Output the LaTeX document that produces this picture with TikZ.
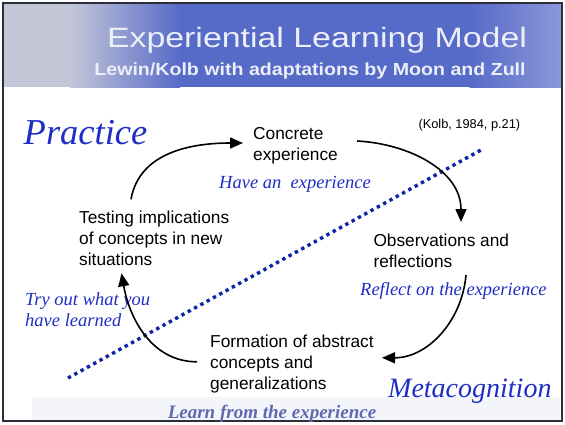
\documentclass[tikz,border=0pt]{standalone}
\usepackage{fontspec}
\setmainfont{Liberation Serif}
\setsansfont{Liberation Sans}
\usetikzlibrary{arrows.meta,calc}

\definecolor{hdpale}{RGB}{196,199,216}
\definecolor{hdblue}{RGB}{86,106,200}
\definecolor{hdlight}{RGB}{140,152,216}
\definecolor{titlewhite}{RGB}{236,238,248}
\definecolor{cueblue}{RGB}{30,45,195}
\definecolor{dotblue}{RGB}{15,35,170}
\definecolor{footgrey}{RGB}{244,245,250}
\definecolor{learnblue}{RGB}{95,105,175}
\definecolor{framegrey}{RGB}{45,45,60}

\newcommand{\stagefont}{\sffamily\fontsize{17.3}{21.2}\selectfont}
\newcommand{\cuefont}{\rmfamily\itshape\fontsize{18.5}{21}\selectfont}
\newcommand{\realmfont}[1]{\rmfamily\itshape\fontsize{#1}{#1}\selectfont}

\begin{document}
\begin{tikzpicture}[x=1pt,y=1pt,
  stage/.style={anchor=base west, align=left, inner sep=0pt, font=\stagefont},
  cue/.style={anchor=base west, align=left, inner sep=0pt, text=cueblue, font=\cuefont},
  cycarrow/.style={line width=1.6pt, -{Triangle[length=13pt,width=11pt]}}]
		\useasboundingbox (0,0) rectangle (565,-424);
		
		% header band and frame
		\fill[hdpale] (3,-3) rectangle (70.5,-87);
		\shade[left color=hdpale, right color=hdblue] (70,-3) rectangle (180,-87);
		\fill[hdblue] (179.5,-3) rectangle (470,-87);
		\shade[left color=hdblue, right color=hdlight] (469.5,-3) rectangle (562,-87);
		\fill[footgrey] (32,-397) rectangle (560,-420);
		\draw[framegrey, line width=1.4pt] (3,-3) rectangle (562,-421);
		
		\node[anchor=base, inner sep=0pt, text=titlewhite, xscale=1.21,
		  font=\sffamily\fontsize{28}{32}\selectfont] (title) at (317,-47) {Experiential Learning Model};
		\node[anchor=base, inner sep=0pt, text=titlewhite, xscale=1.12,
		  font=\sffamily\bfseries\fontsize{17.5}{20}\selectfont] (subtitle) at (310,-75) {Lewin/Kolb with adaptations by Moon and Zull};
		
		% dividing line
		\coordinate (divlo) at (68,-378);
		\coordinate (divhi) at (481,-150);
		\draw[dotblue, line width=3.4pt, dash pattern=on 3.4pt off 3.8pt] (divlo) -- (divhi);
		
		% the four stages (base = baseline of the last line)
		\node[stage] (concrete) at (253,-160.5) {Concrete\\experience};
		\node[stage] (observations) at (373.3,-267.9) {Observations and\\reflections};
		\node[stage] (formation) at (210,-389.7) {Formation of abstract\\concepts and\\generalizations};
		\node[stage] (testing) at (79,-265.7) {Testing implications\\of concepts in new\\situations};
		\node[anchor=base west, inner sep=0pt, font=\sffamily\fontsize{12.8}{15}\selectfont] (kolb) at (418.3,-128) {(Kolb, 1984, p.21)};
		
		% what to do at each stage
		\node[cue] (have) at (219,-188.5) {Have an\ \ experience};
		\node[cue] (reflect) at (360,-295) {Reflect on the experience};
		\node[cue] (tryout) at (25,-326.7) {Try out what you\\have learned};
		\node[anchor=base, inner sep=0pt, text=learnblue, font=\rmfamily\bfseries\itshape\fontsize{19}{21}\selectfont] (learn) at (272,-418) {Learn from the experience};
		
		\node[anchor=base west, inner sep=0pt, text=cueblue, font=\realmfont{36.5}] (practice) at (23.5,-144) {Practice};
		\node[anchor=base west, inner sep=0pt, text=cueblue, font=\realmfont{28}] (metacog) at (388,-397) {Metacognition};
		
		% cycle
		\draw[cycarrow] ($(testing.base west)+(52,66.4)$) to[out=80,in=180] ($(concrete.base west)+(-10,17.5)$);
		\draw[cycarrow] ($(concrete.base west)+(104,19.5)$) to[out=-3,in=90] ($(observations.base west)+(87.7,45.9)$);
		\draw[cycarrow] ($(observations.base west)+(92.7,-7.1)$) to[out=-95,in=0] ($(formation.base west)+(172,31.9)$);
		\draw[cycarrow] ($(formation.base west)+(-13,27.9)$) to[out=180,in=-80] ($(testing.base west)+(42.5,-7.6)$);
\end{tikzpicture}
\end{document}
